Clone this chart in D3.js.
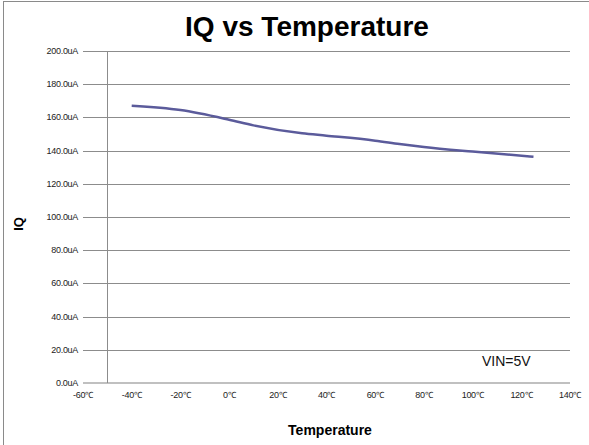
<!DOCTYPE html>
<html>
<head>
<meta charset="utf-8">
<script src="https://cdn.jsdelivr.net/npm/d3@7"></script>
<style>
  body { margin: 0; background: #fff; }
  text { font-family: "Liberation Sans", Arial, sans-serif; }
</style>
</head>
<body>
<svg width="589" height="445"></svg>
<script>
var temps = [-40, -20, 0, 10, 30, 40, 60, 70, 80, 100, 125];
var iq = [167.0, 164.4, 158.6, 155.2, 150.4, 149.0, 146.0, 144.0, 142.2, 139.4, 136.3];
var xTicks = [-60, -40, -20, 0, 20, 40, 60, 80, 100, 120, 140];
var yTicks = [0, 20, 40, 60, 80, 100, 120, 140, 160, 180, 200];

var svg = d3.select("svg");

// outer frame
svg.append("rect")
    .attr("x", 3.5).attr("y", 1.5)
    .attr("width", 600).attr("height", 460)
    .attr("fill", "none")
    .attr("stroke", "#8a8a8a")
    .attr("stroke-width", 1);

var x = d3.scaleLinear().domain([-60, 140]).range([83, 570]);
var y = d3.scaleLinear().domain([0, 200]).range([383, 51]);

// gridlines
svg.append("g")
  .selectAll("line")
  .data(yTicks.filter(function(d) { return d > 0; }))
  .enter().append("line")
    .attr("x1", 83).attr("x2", 570)
    .attr("y1", function(d) { return Math.round(y(d)) + 0.5; })
    .attr("y2", function(d) { return Math.round(y(d)) + 0.5; })
    .attr("stroke", "#8c8c8c")
    .attr("stroke-width", 1);

// baseline
svg.append("line")
    .attr("x1", 83).attr("x2", 570)
    .attr("y1", y(0)).attr("y2", y(0))
    .attr("stroke", "#c0c0c0")
    .attr("stroke-width", 2);

// vertical axis line crossing at -50
svg.append("line")
    .attr("x1", Math.round(x(-50)) + 0.5).attr("x2", Math.round(x(-50)) + 0.5)
    .attr("y1", y(200)).attr("y2", y(0))
    .attr("stroke", "#8c8c8c")
    .attr("stroke-width", 1);

// y tick labels
svg.append("g")
  .selectAll("text")
  .data(yTicks)
  .enter().append("text")
    .attr("x", 78)
    .attr("y", function(d) { return y(d) + 3; })
    .attr("text-anchor", "end")
    .attr("font-size", 9)
    .attr("fill", "#222")
    .attr("letter-spacing", -0.3)
    .text(function(d) { return d.toFixed(1) + "uA"; });

// x tick labels
var xl = svg.append("g")
  .selectAll("text")
  .data(xTicks)
  .enter().append("text")
    .attr("x", function(d) { return x(d); })
    .attr("y", 398)
    .attr("text-anchor", "middle")
    .attr("font-size", 9)
    .attr("fill", "#222")
    .attr("letter-spacing", -0.3);
xl.append("tspan").text(function(d) { return d; });
xl.append("tspan").attr("font-size", 8.5).text("\u2103");

// data line
var line = d3.line()
    .curve(d3.curveMonotoneX)
    .x(function(d, i) { return x(temps[i]); })
    .y(function(d) { return y(d); });

svg.append("path")
    .datum(iq)
    .attr("d", line)
    .attr("fill", "none")
    .attr("stroke", "#5b5b9b")
    .attr("stroke-width", 2.5);

// title
svg.append("text")
    .attr("x", 307).attr("y", 36)
    .attr("text-anchor", "middle")
    .attr("font-size", 28)
    .attr("font-weight", "bold")
    .text("IQ vs Temperature");

// axis titles
svg.append("text")
    .attr("transform", "translate(23,224) rotate(-90)")
    .attr("text-anchor", "middle")
    .attr("font-size", 13)
    .attr("font-weight", "bold")
    .text("IQ");

svg.append("text")
    .attr("x", 330).attr("y", 435)
    .attr("text-anchor", "middle")
    .attr("font-size", 14)
    .attr("font-weight", "bold")
    .text("Temperature");

svg.append("text")
    .attr("x", 482).attr("y", 366)
    .attr("font-size", 14)
    .attr("fill", "#111")
    .text("VIN=5V");
</script>
</body>
</html>
